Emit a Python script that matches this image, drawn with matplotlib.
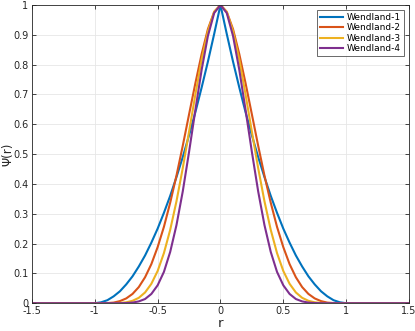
import numpy as np
import matplotlib.pyplot as plt

# values (r >= 0 half; curves are symmetric about r = 0)
r_half = [0.0, 0.05, 0.1, 0.15, 0.2, 0.25, 0.3, 0.35, 0.4, 0.45, 0.5,
          0.55, 0.6, 0.65, 0.7, 0.75, 0.8, 0.85, 0.9, 0.95, 1.0, 1.5]
w1 = [1.0, 0.903, 0.81, 0.723, 0.64, 0.563, 0.49, 0.423, 0.36, 0.303, 0.25,
      0.203, 0.16, 0.123, 0.09, 0.063, 0.04, 0.023, 0.01, 0.003, 0.0, 0.0]
w2 = [1.0, 0.977, 0.919, 0.835, 0.737, 0.633, 0.528, 0.428, 0.337, 0.256, 0.188,
      0.131, 0.087, 0.054, 0.031, 0.016, 0.007, 0.002, 0.0005, 0.0, 0.0, 0.0]
w3 = [1.0, 0.977, 0.912, 0.816, 0.699, 0.575, 0.453, 0.342, 0.246, 0.168, 0.108,
      0.065, 0.036, 0.018, 0.008, 0.003, 0.001, 0.0, 0.0, 0.0, 0.0, 0.0]
w4 = [1.0, 0.973, 0.896, 0.782, 0.647, 0.507, 0.375, 0.262, 0.172, 0.105, 0.060,
      0.031, 0.014, 0.006, 0.002, 0.0006, 0.0, 0.0, 0.0, 0.0, 0.0, 0.0]
labels = ['Wendland-1', 'Wendland-2', 'Wendland-3', 'Wendland-4']
colors = ['#0072BD', '#D95319', '#EDB120', '#7E2F8E']

xticks = [-1.5, -1, -0.5, 0, 0.5, 1, 1.5]
xtick_labels = ['-1.5', '-1', '-0.5', '0', '0.5', '1', '1.5']
yticks = np.arange(0, 11) / 10
ytick_labels = ['0', '0.1', '0.2', '0.3', '0.4', '0.5', '0.6', '0.7', '0.8', '0.9', '1']


def mirror(vals):
    # left half is the mirror image of the right half
    v = np.asarray(vals)
    return np.concatenate([v[::-1], v[1:]])


r = np.concatenate([-np.asarray(r_half)[::-1], np.asarray(r_half)[1:]])

fig = plt.figure(figsize=(4.15, 3.31), dpi=100)
ax = fig.add_axes([0.077, 0.084, 0.9085, 0.901])

for vals, lab, c in zip([w1, w2, w3, w4], labels, colors):
    ax.plot(r, mirror(vals), color=c, lw=1.5, label=lab)

ax.set_xlim(-1.5, 1.5)
ax.set_ylim(0, 1)
ax.set_xticks(xticks)
ax.set_xticklabels(xtick_labels)
ax.set_yticks(yticks)
ax.set_yticklabels(ytick_labels)
ax.grid(True, color='#e6e6e6', lw=0.6)
ax.set_axisbelow(True)

dark = '#262626'
for s in ax.spines.values():
    s.set_color(dark)
    s.set_linewidth(0.6)
ax.tick_params(direction='in', length=3, width=0.6, colors=dark,
               labelsize=7, top=True, right=True)
ax.tick_params(axis='x', pad=2)
ax.tick_params(axis='y', pad=2.5)

ax.set_xlabel('r', fontsize=9.5, color=dark)
ax.xaxis.set_label_coords(0.5, -0.045)
ax.set_ylabel('Ψ(r)', fontsize=8.5, color=dark)
ax.yaxis.set_label_coords(-0.047, 0.5)

leg = ax.legend(loc='upper right', fontsize=6.5, frameon=True, fancybox=False,
                edgecolor=dark, borderpad=0.3, labelspacing=0.15,
                handlelength=2.6, handletextpad=0.4, borderaxespad=0.6)
leg.get_frame().set_linewidth(0.6)

fig.savefig('out.png', dpi=100)
